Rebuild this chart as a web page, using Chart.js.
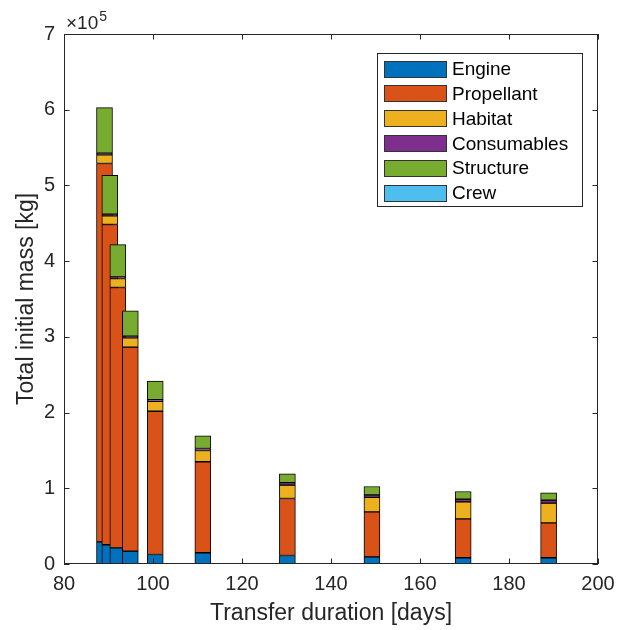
<!DOCTYPE html>
<html lang="en">
<head>
<meta charset="UTF-8">
<title>Total initial mass vs transfer duration</title>
<script src="https://cdn.jsdelivr.net/npm/chart.js"></script>
<style>
  body { margin: 0; background: #fff; }
  #wrap { width: 617px; height: 630px; }
</style>
</head>
<body>
<div id="wrap"><canvas id="massChart" width="617" height="630"></canvas></div>
<script>
// transfer duration of each design point [days]
const durations = [89.1, 90.3, 92.1, 94.9, 100.5, 111.2, 130.2, 149.2, 169.7, 188.9];

// mass breakdown per design point [kg]
const engine      = [29300, 25400, 21400, 16900, 12500, 14800, 11200,  9500,  8200,  8200];
const propellant  = [499700, 423000, 343800, 269500, 189300, 120200, 75300, 59400, 51500, 46200];
const habitat     = [11500, 11500, 11900, 12400, 13200, 14900, 17600, 19300, 22400, 25900];
const consumables = [ 2000,  2000,  2000,  2100,  2100,  2700,  3200,  3200,  3500,  4000];
const structure   = [60300, 51500, 42800, 33500, 24600, 16700, 11800, 11000, 10200,  9700];
const crew        = [    0,     0,     0,     0,     0,     0,     0,     0,     0,     0];

const seriesNames  = ['Engine', 'Propellant', 'Habitat', 'Consumables', 'Structure', 'Crew'];
const seriesColors = ['#0072BD', '#D95319', '#EDB120', '#7E2F8E', '#77AC30', '#4DBEEE'];
const seriesValues = [engine, propellant, habitat, consumables, structure, crew];

const xTicks = [80, 100, 120, 140, 160, 180, 200];
const yTicks = [0, 1, 2, 3, 4, 5, 6, 7];   // x 10^5 kg

const FONT = '"Liberation Sans", Arial, sans-serif';
const AXIS = '#262626';

// build floating segments (stacked by hand) so each series is drawn over the previous one
const running = durations.map(() => 0);
const datasets = seriesValues.map((vals, s) => {
    const data = vals.map((v, i) => {
        const lo = running[i];
        running[i] += v;
        return { x: durations[i], y: [lo, running[i]] };
    });
    return {
        label: seriesNames[s],
        data: data,
        backgroundColor: seriesColors[s],
        borderColor: '#000',
        borderWidth: 1,
        borderSkipped: false,
        barThickness: 16,
        grouped: false,
        order: seriesNames.length - s
    };
});

const matlabAxes = {
    id: 'matlabAxes',
    afterDatasetsDraw(chart) {
        const ctx = chart.ctx;
        const a = chart.chartArea;
        const xs = chart.scales.x, ys = chart.scales.y;
        ctx.save();
        ctx.strokeStyle = AXIS;
        ctx.lineWidth = 1;
        ctx.strokeRect(a.left + 0.5, a.top + 0.5, a.right - a.left - 1, a.bottom - a.top - 1);
        ctx.beginPath();
        xTicks.forEach(t => {
            const px = Math.round(xs.getPixelForValue(t)) + 0.5;
            ctx.moveTo(px, a.bottom); ctx.lineTo(px, a.bottom - 5.5);
            ctx.moveTo(px, a.top); ctx.lineTo(px, a.top + 5.5);
        });
        yTicks.forEach(t => {
            const py = Math.round(ys.getPixelForValue(t * 1e5)) + 0.5;
            ctx.moveTo(a.left, py); ctx.lineTo(a.left + 5.5, py);
            ctx.moveTo(a.right, py); ctx.lineTo(a.right - 5.5, py);
        });
        ctx.stroke();

        // exponent label
        ctx.fillStyle = AXIS;
        ctx.textBaseline = 'alphabetic';
        ctx.textAlign = 'left';
        ctx.font = '19px ' + FONT;
        ctx.fillText('\u00d710', a.left + 2, a.top - 5);
        const w = ctx.measureText('\u00d710').width;
        ctx.font = '14px ' + FONT;
        ctx.fillText('5', a.left + 3 + w, a.top - 13);

        // legend box, top right inside the axes
        const lx = 377, ly = 53, lw = 206, lh = 154;
        ctx.fillStyle = '#fff';
        ctx.fillRect(lx, ly, lw, lh);
        ctx.strokeStyle = AXIS;
        ctx.strokeRect(lx + 0.5, ly + 0.5, lw - 1, lh - 1);
        ctx.font = '19px ' + FONT;
        ctx.textBaseline = 'middle';
        seriesNames.forEach((name, i) => {
            const cy = 69 + i * 24.8;
            ctx.fillStyle = seriesColors[i];
            ctx.fillRect(384, Math.round(cy - 8.5), 63, 17);
            ctx.strokeStyle = '#333';
            ctx.strokeRect(384.5, Math.round(cy - 8.5) + 0.5, 62, 16);
            ctx.fillStyle = '#000';
            ctx.fillText(name, 452, cy + 1);
        });
        ctx.restore();
    }
};

new Chart(document.getElementById('massChart').getContext('2d'), {
    type: 'bar',
    data: { datasets: datasets },
    options: {
        responsive: false,
        animation: false,
        devicePixelRatio: 1,
        layout: { padding: { left: 0, right: 19, top: 34, bottom: 0 } },
        plugins: {
            legend: { display: false },
            tooltip: { enabled: false }
        },
        scales: {
            x: {
                type: 'linear',
                min: 80,
                max: 200,
                offset: false,
                grid: { display: false, drawTicks: false },
                border: { display: false },
                ticks: { stepSize: 20, color: AXIS, font: { family: FONT, size: 20 }, padding: 8, maxRotation: 0 },
                title: { display: true, text: 'Transfer duration [days]', color: AXIS, font: { family: FONT, size: 23 }, padding: 3 },
                afterFit: s => { s.height = 66; s.paddingLeft = 0; s.paddingRight = 0; }
            },
            y: {
                min: 0,
                max: 700000,
                grid: { display: false, drawTicks: false },
                border: { display: false },
                ticks: { stepSize: 100000, color: AXIS, font: { family: FONT, size: 20 }, padding: 9,
                         callback: v => v / 100000 },
                title: { display: true, text: 'Total initial mass [kg]', color: AXIS, font: { family: FONT, size: 23 }, padding: 13 },
                afterFit: s => { s.width = 64; s.paddingTop = 0; s.paddingBottom = 0; }
            }
        }
    },
    plugins: [matlabAxes]
});
</script>
</body>
</html>
